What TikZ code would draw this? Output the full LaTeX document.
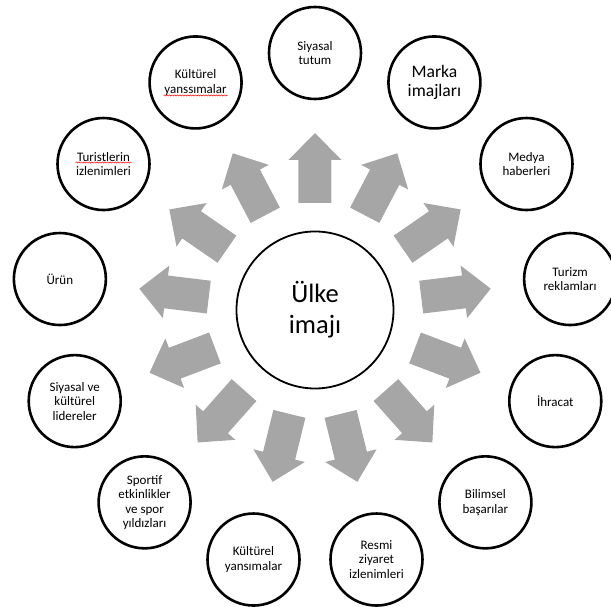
\documentclass[tikz,border=0pt]{standalone}
\usepackage{fontspec}
\setmainfont{Carlito}
\usetikzlibrary{decorations.pathmorphing}

\definecolor{okgri}{RGB}{166,166,166}
\tikzset{
	kume/.style={circle, draw=black, line width=2.6pt, minimum size=92pt, inner sep=0pt, align=center},
	kucuk/.style={font=\fontsize{13}{14.5}\selectfont},
	buyuk/.style={font=\fontsize{17.6}{19.5}\selectfont},
	merkez/.style={circle, draw=black, line width=1.8pt, minimum size=157pt, inner sep=0pt, align=center, font=\fontsize{26.5}{31}\selectfont},
	hata/.style={red, line width=0.5pt, decorate, decoration={snake, amplitude=0.6pt, segment length=2.6pt}}
}

\begin{document}
\begin{tikzpicture}[x=1pt, y=1pt]
	\useasboundingbox (-315,-297) rectangle (296,310);
	\node[merkez] (imaj) at (0,0) {Ülke\\imajı};
	\foreach \i/\metin/\boy in {
		0/{Siyasal\\tutum}/kucuk,
		1/{Kültürel\\yanssımalar}/kucuk,
		2/{Turistlerin\\izlenimleri}/kucuk,
		3/{Ürün}/kucuk,
		4/{Siyasal ve\\kültürel\\lidereler}/kucuk,
		5/{Sportif\\etkinlikler\\ve spor\\yıldızları}/kucuk,
		6/{Kültürel\\yansımalar}/kucuk,
		7/{Resmi\\ziyaret\\izlenimleri}/kucuk,
		8/{Bilimsel\\başarılar}/kucuk,
		9/{İhracat}/kucuk,
		10/{Turizm\\reklamları}/kucuk,
		11/{Medya\\haberleri}/kucuk,
		12/{Marka\\imajları}/buyuk}
	{
		\node[kume, \boy] (k\i) at ({90+\i*360/13}:257) {\metin};
		\fill[okgri, rotate={90+\i*360/13}]
			(107,-16.5) -- (150,-16.5) -- (150,-26.5) -- (177,0)
			-- (150,26.5) -- (150,16.5) -- (107,16.5) -- cycle;
	}
	% spell check marks
	\draw[hata] ([shift={(-32,-13)}]k1.center) -- ([shift={(32,-13)}]k1.center);
	\draw[hata] ([shift={(-28,1.5)}]k2.center) -- ([shift={(28,1.5)}]k2.center);
\end{tikzpicture}
\end{document}
